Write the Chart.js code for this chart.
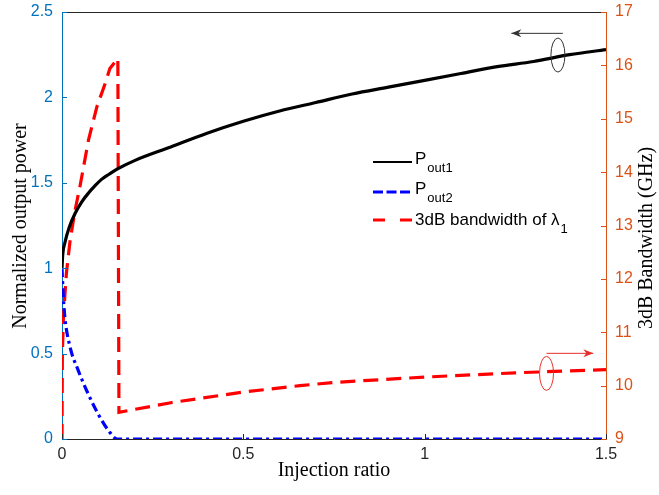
<!DOCTYPE html>
<html>
<head>
<meta charset="utf-8">
<script src="https://cdn.jsdelivr.net/npm/chart.js@4.4.0/dist/chart.umd.min.js"></script>
<style>
html, body { margin: 0; padding: 0; background: #fff; }
</style>
</head>
<body>
<canvas id="chart" width="659" height="495"></canvas>
<script>
// injection ratio sweep, normalized output power of both modes
const pout1X = [0, 0.002, 0.008, 0.02, 0.036, 0.055, 0.073, 0.09, 0.109, 0.13, 0.152, 0.2, 0.3, 0.4, 0.5, 0.6, 0.7, 0.8, 0.9, 1.0, 1.1, 1.2, 1.3, 1.4, 1.5];
const pout1Y = [1.0, 1.08, 1.15, 1.24, 1.32, 1.39, 1.44, 1.48, 1.52, 1.55, 1.58, 1.63, 1.71, 1.79, 1.86, 1.92, 1.97, 2.02, 2.06, 2.10, 2.14, 2.18, 2.21, 2.25, 2.28];

const pout2X = [0, 0.004, 0.008, 0.022, 0.045, 0.073, 0.1, 0.128, 0.152, 1.5];
const pout2Y = [1.0, 0.82, 0.71, 0.54, 0.40, 0.26, 0.145, 0.05, 0, 0];

// 3dB bandwidth of lambda1 (GHz), right axis
const bwX = [0, 0.001, 0.004, 0.012, 0.022, 0.035, 0.05, 0.073, 0.096, 0.119, 0.132, 0.154, 0.157, 0.3, 0.5, 0.656, 0.75, 1.0, 1.25, 1.5];
const bwY = [9, 10.6, 11.3, 12.1, 12.7, 13.25, 13.75, 14.6, 15.22, 15.66, 15.94, 16.13, 9.5, 9.68, 9.88, 10.0, 10.06, 10.16, 10.24, 10.30];

const xTicks = [0, 0.5, 1, 1.5];
const leftTicks = [0, 0.5, 1, 1.5, 2, 2.5];
const rightTicks = [9, 10, 11, 12, 13, 14, 15, 16, 17];

const BLUE_AX = '#0072BD';
const ORANGE_AX = '#D95319';
const DARK = '#262626';
const SANS = '"Liberation Sans", Arial, sans-serif';
const SERIF = '"Liberation Serif", "Times New Roman", serif';

function pts(xs, ys) {
  return xs.map((x, i) => ({ x: x, y: ys[i] }));
}

function fixedTicks(vals) {
  return function (scale) {
    scale.ticks = vals.map(v => ({ value: v }));
  };
}

// plain number labels: 1 instead of 1.0
function plainLabel(v) {
  return String(v);
}

// fixed side widths so the plot box lands where it should
function sideWidth(w) {
  return function (s) {
    s.width = w;
    s.paddingTop = 0;
    s.paddingBottom = 0;
  };
}

// inward tick marks, top edge, titles, legend and the little arrow markers
const decor = {
  id: 'decor',
  afterDatasetsDraw(chart) {
    const ctx = chart.ctx;
    const a = chart.chartArea;
    const sx = chart.scales.x, sy = chart.scales.y, sr = chart.scales.y1;
    ctx.save();

    ctx.lineWidth = 1;
    ctx.strokeStyle = DARK;
    ctx.beginPath();
    ctx.moveTo(a.left, a.top + 0.5);
    ctx.lineTo(a.right, a.top + 0.5);
    ctx.stroke();

    ctx.beginPath();
    xTicks.forEach(v => {
      const px = Math.round(sx.getPixelForValue(v)) + 0.5;
      ctx.moveTo(px, a.bottom);
      ctx.lineTo(px, a.bottom - 5);
    });
    ctx.stroke();

    ctx.strokeStyle = BLUE_AX;
    ctx.beginPath();
    leftTicks.forEach(v => {
      const py = Math.round(sy.getPixelForValue(v)) + 0.5;
      ctx.moveTo(a.left, py);
      ctx.lineTo(a.left + 5, py);
    });
    ctx.stroke();

    ctx.strokeStyle = ORANGE_AX;
    ctx.beginPath();
    rightTicks.forEach(v => {
      const py = Math.round(sr.getPixelForValue(v)) + 0.5;
      ctx.moveTo(a.right, py);
      ctx.lineTo(a.right - 5, py);
    });
    ctx.stroke();

    // axis titles
    ctx.fillStyle = '#000';
    ctx.font = '20px ' + SERIF;
    ctx.textAlign = 'center';
    ctx.textBaseline = 'alphabetic';
    ctx.fillText('Injection ratio', (a.left + a.right) / 2, 476);

    ctx.save();
    ctx.translate(26, 226);
    ctx.rotate(-Math.PI / 2);
    ctx.fillText('Normalized output power', 0, 0);
    ctx.restore();

    ctx.save();
    ctx.translate(652, 238);
    ctx.rotate(-Math.PI / 2);
    ctx.fillText('3dB Bandwidth (GHz)', 0, 0);
    ctx.restore();

    // legend
    const lx0 = 373, lx1 = 412, tx = 415;
    const rows = [
      { y: 162, color: '#000', dash: [], main: 'P', sub: 'out1', base: 2 },
      { y: 192, color: '#0000FF', dash: [10, 3.5], main: 'P', sub: 'out2', base: 2 },
      { y: 220, color: '#FF0000', dash: [12, 15], main: '3dB bandwidth of \u03BB', sub: '1', base: 5 }
    ];
    ctx.textAlign = 'left';
    rows.forEach(r => {
      ctx.strokeStyle = r.color;
      ctx.lineWidth = r.dash.length ? 3 : 2;
      ctx.setLineDash(r.dash);
      ctx.beginPath();
      ctx.moveTo(lx0, r.y);
      ctx.lineTo(lx1, r.y);
      ctx.stroke();
      ctx.setLineDash([]);
      ctx.fillStyle = '#000';
      ctx.font = '17px ' + SANS;
      ctx.fillText(r.main, tx, r.y + r.base);
      const w = ctx.measureText(r.main).width;
      ctx.font = '13px ' + SANS;
      ctx.fillText(r.sub, tx + w + 1, r.y + r.base + 8);
    });

    // ellipse + arrow markers telling which axis each curve belongs to
    function marker(cx, cy, color, ax0, ax1, ay) {
      ctx.strokeStyle = color;
      ctx.fillStyle = color;
      ctx.lineWidth = 1;
      ctx.beginPath();
      ctx.ellipse(cx, cy, 7, 17, 0, 0, Math.PI * 2);
      ctx.stroke();
      ctx.beginPath();
      ctx.moveTo(ax0, ay);
      ctx.lineTo(ax1, ay);
      ctx.stroke();
      const d = ax1 > ax0 ? 1 : -1;
      ctx.beginPath();
      ctx.moveTo(ax1, ay);
      ctx.lineTo(ax1 - d * 10, ay - 4);
      ctx.lineTo(ax1 - d * 7, ay);
      ctx.lineTo(ax1 - d * 10, ay + 4);
      ctx.closePath();
      ctx.fill();
    }
    marker(sx.getPixelForValue(1.3675), sy.getPixelForValue(2.248), '#333',
      sx.getPixelForValue(1.381), sx.getPixelForValue(1.239), sy.getPixelForValue(2.375));
    marker(sx.getPixelForValue(1.336), sr.getPixelForValue(10.23), '#E8302A',
      sx.getPixelForValue(1.336), sx.getPixelForValue(1.465), sr.getPixelForValue(10.605));

    ctx.restore();
  }
};

new Chart(document.getElementById('chart').getContext('2d'), {
  type: 'line',
  data: {
    datasets: [
      {
        label: 'Pout1',
        data: pts(pout1X, pout1Y),
        yAxisID: 'y',
        borderColor: '#000',
        borderWidth: 3.2,
        cubicInterpolationMode: 'monotone'
      },
      {
        label: 'Pout2',
        data: pts(pout2X, pout2Y),
        yAxisID: 'y',
        borderColor: '#0000FF',
        borderWidth: 3.2,
        borderDash: [9, 4, 3, 4],
        cubicInterpolationMode: 'monotone'
      },
      {
        label: '3dB bandwidth',
        data: pts(bwX, bwY),
        yAxisID: 'y1',
        borderColor: '#FF0000',
        borderWidth: 3.2,
        borderDash: [15, 8],
        tension: 0
      }
    ]
  },
  options: {
    responsive: false,
    animation: false,
    devicePixelRatio: 1,
    layout: { padding: { top: 12 } },
    elements: { point: { radius: 0 } },
    plugins: { legend: { display: false }, tooltip: { enabled: false } },
    scales: {
      x: {
        type: 'linear',
        min: 0, max: 1.5,
        afterBuildTicks: fixedTicks(xTicks),
        afterFit(s) { s.height = 56; s.paddingLeft = 0; s.paddingRight = 0; },
        grid: { display: false, drawTicks: false },
        border: { display: true, color: DARK, width: 1 },
        ticks: { padding: 6, color: DARK, font: { family: SANS, size: 16 }, callback: plainLabel }
      },
      y: {
        position: 'left',
        min: 0, max: 2.5,
        afterBuildTicks: fixedTicks(leftTicks),
        afterFit: sideWidth(62),
        grid: { display: false, drawTicks: false },
        border: { display: true, color: BLUE_AX, width: 1 },
        ticks: { padding: 9, color: BLUE_AX, font: { family: SANS, size: 16 }, callback: plainLabel }
      },
      y1: {
        position: 'right',
        min: 9, max: 17,
        afterBuildTicks: fixedTicks(rightTicks),
        afterFit: sideWidth(53),
        grid: { display: false, drawTicks: false },
        border: { display: true, color: ORANGE_AX, width: 1 },
        ticks: { padding: 9, color: ORANGE_AX, font: { family: SANS, size: 16 }, callback: plainLabel }
      }
    }
  },
  plugins: [decor]
});
</script>
</body>
</html>
